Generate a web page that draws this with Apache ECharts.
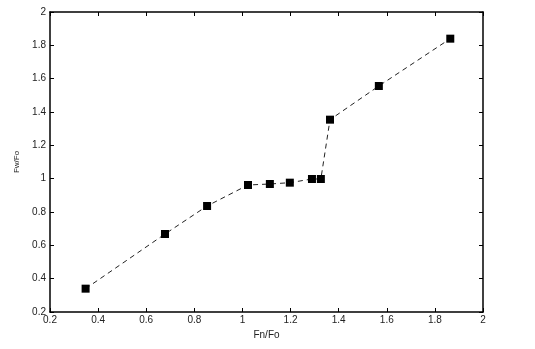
<!DOCTYPE html>
<html><head><meta charset="utf-8">
<script src="https://cdn.jsdelivr.net/npm/echarts@6/dist/echarts.min.js"></script>
<style>html,body{margin:0;padding:0;background:#fff}#c{width:535px;height:349px}</style>
</head><body><div id="c"></div>
<script>
var xValues = [0.348, 0.678, 0.853, 1.023, 1.114, 1.197, 1.289, 1.326, 1.364, 1.567, 1.864];
var yValues = [0.34, 0.668, 0.836, 0.962, 0.968, 0.976, 0.998, 0.998, 1.354, 1.556, 1.84];
var xName = 'Fn/Fo';
var yName = 'Fw/Fo';

var pts = xValues.map(function(x, i){ return [x, yValues[i]]; });
var font = 'Liberation Sans, Arial, sans-serif';
function axisBase(){
  return {
    min: 0.2, max: 2, interval: 0.2,
    axisLine: {show: true, onZero: false, lineStyle: {color: '#000', width: 1.5}},
    axisTick: {show: true, inside: true, length: 4, lineStyle: {color: '#000', width: 1}},
    splitLine: {show: false},
    axisLabel: {color: '#222', fontSize: 10, fontFamily: font}
  };
}
var xB = axisBase(), xT = axisBase(), yL = axisBase(), yR = axisBase();
xB.type = 'value'; xB.position = 'bottom'; xB.name = xName; xB.nameLocation = 'middle'; xB.nameGap = 17;
xB.nameTextStyle = {color: '#222', fontSize: 10, fontFamily: font};
xB.axisLabel.margin = 3;
xT.type = 'value'; xT.position = 'top'; xT.axisLabel = {show: false};
yL.type = 'value'; yL.position = 'left'; yL.name = yName; yL.nameLocation = 'middle'; yL.nameGap = 25; yL.nameRotate = 90;
yL.nameTextStyle = {color: '#222', fontSize: 8, fontFamily: font};
yL.axisLabel.margin = 4;
yR.type = 'value'; yR.position = 'right'; yR.axisLabel = {show: false};

var chart = echarts.init(document.getElementById('c'));
chart.setOption({
  animation: false,
  backgroundColor: '#fff',
  grid: {left: 50, right: 52, top: 12, bottom: 37},
  xAxis: [xB, xT],
  yAxis: [yL, yR],
  series: [{
    type: 'line',
    data: pts,
    symbol: 'rect',
    symbolSize: 8,
    itemStyle: {color: '#000'},
    lineStyle: {color: '#222', width: 1, type: [5, 4]}
  }]
});
</script></body></html>
